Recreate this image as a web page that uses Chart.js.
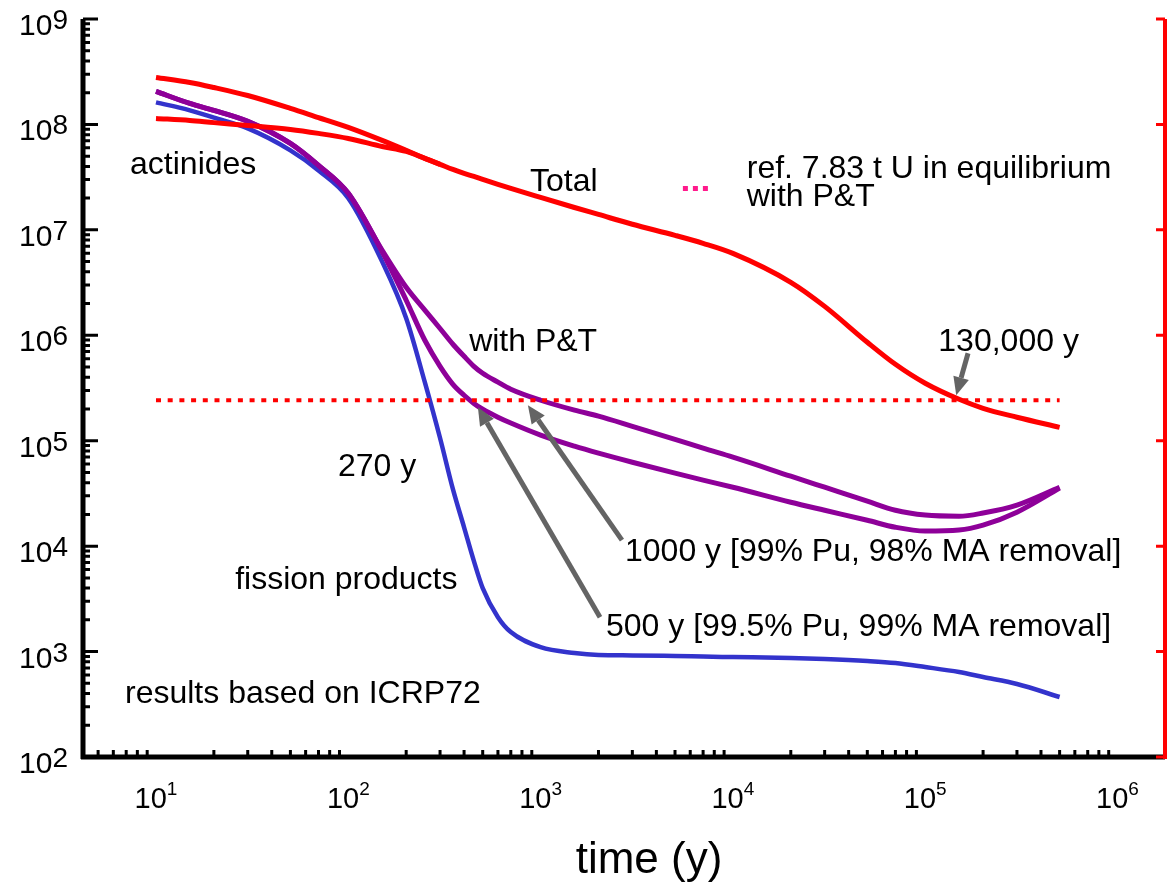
<!DOCTYPE html>
<html>
<head>
<meta charset="utf-8">
<script src="https://cdn.jsdelivr.net/npm/chart.js@4.4.1/dist/chart.umd.min.js"></script>
<style>
html,body{margin:0;padding:0;background:#fff;}
#wrap{width:1169px;height:882px;position:relative;}
</style>
</head>
<body>
<div id="wrap"><canvas id="chart"></canvas></div>
<script>
// time grid (years) shared by all curves
const years = [10,15,20,30,50,70,100,150,200,250,300,350,400,450,500,600,700,1000,1500,2000,3000,5000,7000,1e4,2e4,3e4,5e4,7e4,1e5,1.5e5,2e5,3e5,5e5];
// radiotoxicity
const total = [2.79e8,2.50e8,2.24e8,1.88e8,1.42e8,1.16e8,9.37e7,7.05e7,5.67e7,4.76e7,4.18e7,3.74e7,3.43e7,3.21e7,3.01e7,2.70e7,2.47e7,2.03e7,1.63e7,1.40e7,1.13e7,8.87e6,7.45e6,5.98e6,3.18e6,1.88e6,8.59e5,5.31e5,3.51e5,2.47e5,2.03e5,1.67e5,1.34e5];
const actinides = [1.14e8,1.09e8,1.04e8,9.79e7,8.97e7,8.22e7,7.36e7,6.18e7,5.55e7,4.76e7,4.18e7,null,null,null,null,null,null,null,null,null,null,null,null,null,null,null,null,null,null,null,null,null,null];
const fissionProducts = [1.62e8,1.36e8,1.16e8,9.16e7,5.67e7,3.66e7,2.0e7,5.0e6,1.45e6,3.59e5,1.06e5,3.47e4,1.51e4,7.21e3,4.0e3,2.12e3,1.53e3,1.10e3,968,927,920,907,897,887,868,849,813,778,713,639,573,492,371];
const pt1000 = [2.06e8,1.58e8,1.36e8,1.07e8,6.61e7,4.09e7,2.22e7,6.4e6,2.85e6,1.73e6,1.16e6,8.22e5,6.32e5,5.08e5,4.36e5,3.59e5,3.08e5,2.42e5,1.95e5,1.71e5,1.37e5,1.03e5,8.49e4,6.98e4,4.61e4,3.62e4,2.67e4,2.19e4,1.97e4,1.92e4,2.06e4,2.45e4,3.62e4];
const pt500 = [2.06e8,1.58e8,1.36e8,1.07e8,6.61e7,4.09e7,2.22e7,6.2e6,2.15e6,8.97e5,5.08e5,3.43e5,2.70e5,2.26e5,1.99e5,1.67e5,1.47e5,1.13e5,8.87e4,7.62e4,6.25e4,4.92e4,4.23e4,3.62e4,2.61e4,2.19e4,1.76e4,1.51e4,1.39e4,1.42e4,1.58e4,2.10e4,3.55e4];
// reference: 7.83 t U in equilibrium
const refYears = [10, 5e5];
const refLevel = [2.42e5, 2.42e5];
// decade tick labels (exponents)
const xExponents = [1,2,3,4,5,6];
const yExponents = [2,3,4,5,6,7,8,9];

// text labels and arrows anchored in data coordinates
const notes = [
  {text:'actinides', t:7.33, v:3.43e7},
  {text:'Total', t:881, v:2.37e7},
  {text:'ref. 7.83 t U in equilibrium', t:1.18e4, v:3.15e7},
  {text:'with P&T', t:1.18e4, v:1.71e7},
  {text:'with P&T', t:425, v:7.21e5},
  {text:'130,000 y', t:1.17e5, v:7.21e5},
  {text:'270 y', t:88.3, v:4.71e4},
  {text:'1000 y [99% Pu, 98% MA removal]', t:2748, v:7.37e3},
  {text:'fission products', t:25.8, v:4.0e3},
  {text:'500 y [99.5% Pu, 99% MA removal]', t:2188, v:1.43e3},
  {text:'results based on ICRP72', t:6.9, v:332}
];
const arrows = [
  {from:[1.67e5,6.75e5], to:[1.45e5,2.70e5]},
  {from:[2037,2.12e3], to:[472,2.08e5]},
  {from:[2649,1.14e4], to:[859,2.17e5]}
];
const legendMark = {from:5495, to:7603, v:2.47e7};

const FONT = '"Liberation Sans", Arial, sans-serif';
const pts = (xs, ys) => xs.map((x, i) => ({x: x, y: ys[i]}));

const decorations = {
  id: 'decorations',
  afterDatasetsDraw(chart) {
    const ctx = chart.ctx, a = chart.chartArea;
    const xs = chart.scales.x, ys = chart.scales.y;
    ctx.save();

    // axis lines
    ctx.lineCap = 'butt';
    ctx.strokeStyle = '#000';
    ctx.lineWidth = 5;
    ctx.beginPath();
    ctx.moveTo(a.left, a.top); ctx.lineTo(a.left, a.bottom + 2);
    ctx.moveTo(a.left - 2, a.bottom); ctx.lineTo(a.right, a.bottom);
    ctx.stroke();

    // inward ticks on left and bottom axes
    ctx.lineWidth = 3;
    ctx.beginPath();
    for (let d = 2; d <= 9; d++) {
      for (let k = 1; k <= 9; k++) {
        const v = k * Math.pow(10, d);
        if (v > ys.max * 1.0001 || v < ys.min) continue;
        const p = ys.getPixelForValue(v);
        ctx.moveTo(a.left, p); ctx.lineTo(a.left + (k === 1 ? 15 : 7), p);
      }
    }
    for (let d = 0; d <= 6; d++) {
      for (let k = 2; k <= 9; k++) {
        const v = k * Math.pow(10, d);
        if (v > xs.max || v < xs.min) continue;
        const p = xs.getPixelForValue(v);
        ctx.moveTo(p, a.bottom); ctx.lineTo(p, a.bottom - 7);
      }
    }
    ctx.stroke();

    // red right axis
    ctx.strokeStyle = '#ff0000';
    ctx.lineWidth = 4;
    ctx.beginPath();
    ctx.moveTo(a.right, a.top); ctx.lineTo(a.right, a.bottom + 2);
    ctx.stroke();
    ctx.lineWidth = 3;
    ctx.beginPath();
    yExponents.forEach(e => {
      const p = ys.getPixelForValue(Math.pow(10, e));
      ctx.moveTo(a.right, p); ctx.lineTo(a.right - 9, p);
    });
    ctx.stroke();

    // tick labels
    ctx.fillStyle = '#000';
    ctx.textBaseline = 'alphabetic';
    ctx.textAlign = 'left';
    xExponents.forEach(e => {
      const p = xs.getPixelForValue(Math.pow(10, e));
      ctx.font = '29px ' + FONT;
      const w1 = ctx.measureText('10').width;
      ctx.font = '19px ' + FONT;
      const w2 = ctx.measureText(String(e)).width;
      const x0 = p - (w1 + w2) / 2;
      ctx.font = '29px ' + FONT;
      ctx.fillText('10', x0, a.bottom + 51);
      ctx.font = '19px ' + FONT;
      ctx.fillText(String(e), x0 + w1, a.bottom + 38);
    });
    yExponents.forEach(e => {
      const p = ys.getPixelForValue(Math.pow(10, e));
      ctx.font = '28px ' + FONT;
      const w2 = ctx.measureText(String(e)).width;
      ctx.font = '30px ' + FONT;
      const w1 = ctx.measureText('10').width;
      const x0 = a.left - 15 - w1 - w2;
      ctx.fillText('10', x0, p + 16);
      ctx.font = '28px ' + FONT;
      ctx.fillText(String(e), x0 + w1, p + 10);
    });

    // axis title
    ctx.font = '44px ' + FONT;
    ctx.textAlign = 'center';
    ctx.fillText('time (y)', a.left + 566, a.bottom + 116);

    // annotations
    ctx.font = '32px ' + FONT;
    ctx.textAlign = 'left';
    notes.forEach(n => {
      ctx.fillText(n.text, xs.getPixelForValue(n.t), ys.getPixelForValue(n.v) + 1);
    });

    // legend marker for the reference line
    ctx.strokeStyle = '#ff1a8c';
    ctx.lineWidth = 5;
    ctx.setLineDash([5, 5]);
    ctx.beginPath();
    const ly = ys.getPixelForValue(legendMark.v);
    ctx.moveTo(xs.getPixelForValue(legendMark.from), ly);
    ctx.lineTo(xs.getPixelForValue(legendMark.to), ly);
    ctx.stroke();
    ctx.setLineDash([]);

    // arrows
    ctx.strokeStyle = '#646464';
    ctx.fillStyle = '#646464';
    ctx.lineWidth = 5;
    arrows.forEach(ar => {
      const x1 = xs.getPixelForValue(ar.from[0]), y1 = ys.getPixelForValue(ar.from[1]);
      const x2 = xs.getPixelForValue(ar.to[0]), y2 = ys.getPixelForValue(ar.to[1]);
      const ang = Math.atan2(y2 - y1, x2 - x1);
      const hl = 18, hw = 8;
      const bx = x2 - hl * Math.cos(ang), by = y2 - hl * Math.sin(ang);
      ctx.beginPath();
      ctx.moveTo(x1, y1); ctx.lineTo(bx, by);
      ctx.stroke();
      ctx.beginPath();
      ctx.moveTo(x2, y2);
      ctx.lineTo(bx + hw * Math.sin(ang), by - hw * Math.cos(ang));
      ctx.lineTo(bx - hw * Math.sin(ang), by + hw * Math.cos(ang));
      ctx.closePath();
      ctx.fill();
    });
    ctx.restore();
  }
};

const line = (label, data, color, width, order) => ({
  label: label, data: data, borderColor: color, backgroundColor: color,
  borderWidth: width, pointRadius: 0, fill: false, order: order,
  cubicInterpolationMode: 'monotone', spanGaps: false
});

new Chart(document.getElementById('chart'), {
  type: 'line',
  data: {
    datasets: [
      Object.assign(line('ref. 7.83 t U in equilibrium with P&T', pts(refYears, refLevel), '#ff0000', 4, 0), {borderDash: [5, 6.7], borderCapStyle: 'butt'}),
      line('Total', pts(years, total), '#ff0000', 5, 1),
      line('actinides', pts(years, actinides), '#ff0000', 5, 2),
      line('with P&T (1000 y)', pts(years, pt1000), '#8e0099', 5, 3),
      line('with P&T (500 y)', pts(years, pt500), '#8e0099', 5, 4),
      line('fission products', pts(years, fissionProducts), '#3333cc', 4.5, 5)
    ]
  },
  options: {
    responsive: true,
    maintainAspectRatio: false,
    animation: false,
    layout: {padding: {left: 83, top: 19, right: 4, bottom: 125}},
    scales: {
      x: {type: 'logarithmic', min: 4.173, max: 1.766e6, display: false},
      y: {type: 'logarithmic', min: 100, max: 1e9, display: false}
    },
    plugins: {legend: {display: false}, tooltip: {enabled: false}}
  },
  plugins: [decorations]
});
</script>
</body>
</html>
